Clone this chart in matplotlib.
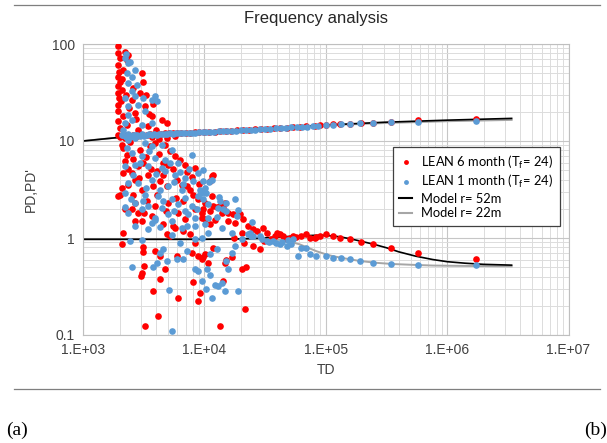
import numpy as np
import matplotlib
matplotlib.use("Agg")
import matplotlib.pyplot as plt
from matplotlib.ticker import LogLocator, FuncFormatter, NullFormatter
from matplotlib.lines import Line2D

plt.rcParams['font.family'] = ['Liberation Sans', 'DejaVu Sans']

# ---- data ----
# PD (upper branch), LEAN 6 month
red_pd_td = [2000, 2100, 2200, 2320, 2450, 2600, 2760, 2940, 3130, 3340, 3570, 3820, 4100, 4400,
             4730, 5100, 5500, 5950, 6450, 7000, 7600, 8300, 9100, 10000, 11000, 12200, 13500,
             15000, 16700, 18600, 20800, 23300, 26100, 29300, 33000, 37200, 42000, 47500, 53800,
             61000, 69400, 81300, 89300, 101400, 114900, 130300, 157600, 194200, 245400, 347100,
             575000, 1717000]
red_pd = [11.0, 11.3, 10.8, 11.5, 11.2, 11.6, 11.3, 11.7, 11.5, 11.6, 11.8, 11.7, 11.9, 11.8,
          12.0, 12.0, 12.1, 12.1, 12.1, 12.2, 12.2, 12.3, 12.3, 12.4, 12.4, 12.5, 12.6,
          12.7, 12.8, 12.9, 13.0, 13.1, 13.2, 13.3, 13.4, 13.5, 13.6, 13.7, 13.9,
          14.0, 14.2, 14.4, 14.5, 14.7, 14.8, 14.9, 15.1, 15.3, 15.5, 15.8,
          16.4, 16.9]

# PD (upper branch), LEAN 1 month
blue_pd_td = [2150, 2250, 2350, 2450, 2560, 2680, 2800, 2930, 3070, 3210, 3360, 3520, 3690, 3870,
              4060, 4260, 4480, 4710, 4960, 5230, 5520, 5830, 6170, 6540, 6950, 7400, 7900, 8450,
              9050, 9700, 10400, 11200, 12100, 13100, 14200, 15400, 16800, 18300, 20000, 21900,
              24000, 26300, 28900, 31800, 35000, 38600, 42600, 47000, 52000, 57500, 63700, 70600,
              78300, 86900, 101400, 114900, 134500, 157600, 190500, 245400, 347100, 575000, 1717000]
blue_pd = [11.4, 10.9, 11.8, 11.1, 11.5, 10.8, 11.6, 11.2, 11.7, 11.3, 11.5, 11.8, 11.4, 11.7,
           11.6, 11.9, 11.7, 11.9, 11.8, 12.0, 11.9, 12.0, 12.1, 12.0, 12.1, 12.2, 12.2, 12.2,
           12.3, 12.3, 12.4, 12.4, 12.5, 12.6, 12.6, 12.7, 12.8, 12.8, 12.9, 13.0,
           13.1, 13.1, 13.2, 13.3, 13.4, 13.5, 13.6, 13.7, 13.8, 13.9, 14.0, 14.1,
           14.3, 14.4, 14.6, 14.7, 14.9, 15.0, 15.2, 15.3, 15.6, 15.7, 16.1]

# PD' (derivative), LEAN 6 month  (TD, PD')
red_dpd = [
    (1954, 95), (1928, 80), (2018, 71), (1954, 61), (1990, 52), (1928, 46), (2018, 41), (1954, 36.5),
    (1928, 31), (1990, 27.7), (1954, 23.6), (1928, 20.2), (1954, 15.9), (2018, 13.6), (2220, 83),
    (2363, 77), (3139, 41), (2944, 31), (3237, 22.7), (3675, 17.9), (4443, 16.6), (4887, 15.3),
    (3451, 14.2), (2680, 19.4), (2518, 26.6), (3040, 50), (2853, 13.1), (5718, 11.2), (4887, 10.7),
    (2080, 33.7), (2149, 54), (2290, 68), (2100, 44), (2050, 26), (2150, 18), (2250, 30), (2400, 22),
    (2600, 35), (2750, 17), (3300, 30), (3500, 19), (4000, 13), (2300, 14.5), (3800, 24),
    (1954, 11.6), (2080, 9.2), (2150, 8.5), (2220, 6.2), (2363, 5.1), (2150, 4.7), (2018, 2.8),
    (1954, 2.7), (2853, 5.5), (3139, 5.9), (2944, 8.15), (3560, 8.8), (3914, 9.5), (4730, 9.2),
    (5200, 7.8), (5718, 7.0), (5540, 5.1), (4590, 4.5), (4040, 4.9), (4300, 3.85), (3800, 3.4),
    (4880, 3.4), (3040, 3.16), (2680, 4.0), (2518, 4.7), (6910, 5.7), (8350, 5.3), (7840, 4.3),
    (7130, 3.4), (7600, 3.16), (6700, 2.4), (8900, 2.5), (10100, 2.31), (11450, 2.7), (6090, 1.82),
    (5040, 2.31), (3914, 2.13), (3675, 1.68), (2853, 1.82), (2518, 1.97), (2220, 1.97), (3040, 1.5),
    (4590, 1.38), (5540, 1.33), (6910, 1.56), (9480, 1.62), (11100, 1.9), (8350, 1.97), (3340, 2.4),
    (2363, 3.55), (2600, 2.8), (3451, 4.5),
    (2300, 7.2), (2600, 6.5), (2900, 4.2), (3300, 6.8), (3600, 5.2), (4200, 7.4), (4600, 6.0),
    (5000, 5.6), (5900, 4.0), (6300, 6.3), (7200, 4.8), (8000, 2.8), (9000, 3.6), (9800, 2.0),
    (2700, 2.3), (3200, 1.8), (4100, 2.8), (4800, 1.9), (5800, 2.6), (6500, 3.5), (2100, 3.3),
    (2450, 9.8), (3700, 11.0), (4200, 10.5),
    (2150, 1.12), (2080, 0.86), (2680, 1.49), (3140, 0.80), (3140, 0.71), (3190, 0.52), (3040, 0.44),
    (3000, 0.41), (3237, 0.125), (3750, 0.285), (4170, 0.158), (4300, 0.376), (4700, 0.48),
    (4300, 0.653), (3914, 0.735), (4900, 1.09), (5200, 1.05), (5718, 1.28), (6000, 0.66),
    (6090, 0.243), (6700, 1.18), (7840, 0.707), (7600, 1.09), (8350, 0.895), (8900, 0.653),
    (9480, 0.604), (9780, 0.63), (10090, 0.68), (10750, 0.558), (11800, 0.795), (13400, 0.123),
    (8100, 0.35), (9180, 0.274), (8900, 0.225), (14300, 0.36), (14750, 0.558), (15200, 0.60),
    (16740, 0.63), (20230, 0.476), (22200, 0.50), (21540, 0.185), (22950, 1.33), (17820, 1.43),
    (11100, 1.38), (12200, 1.55), (15700, 1.49),
    (9480, 1.82), (11830, 2.13), (14750, 2.31), (13840, 1.82), (10090, 1.56), (17270, 1.75),
    (19590, 1.75), (20900, 1.56), (25240, 1.23), (30500, 1.28), (32500, 1.13), (39300, 1.13),
    (44600, 1.05), (50600, 1.01), (57400, 1.03), (69400, 1.09), (81300, 1.01), (89300, 1.05),
    (101400, 1.09), (114900, 1.05), (130300, 1.01), (157600, 0.969), (194200, 0.917),
    (245400, 0.874), (347100, 0.789), (575000, 0.695), (1717000, 0.604), (25240, 0.828),
    (28640, 0.765), (63000, 1.05), (73800, 0.99), (83800, 1.03), (42000, 1.09), (47500, 0.98),
    (54000, 1.05), (27000, 1.17), (31000, 0.93), (35500, 0.97), (38000, 1.05),
    (11560, 4.39), (12650, 2.10), (14130, 2.02), (15780, 1.80), (20400, 1.12), (17600, 1.0),
    (21100, 0.88), (11750, 4.5), (11100, 3.85), (13400, 2.13),
]

# PD' (derivative), LEAN 1 month  (TD, PD')
blue_dpd = [
    (2220, 71), (2363, 63), (2680, 54), (2290, 50), (2518, 46), (2363, 39.4), (2765, 37.9),
    (2518, 32.4), (2220, 27.7), (2680, 28.8), (3139, 27.7), (3914, 28.8), (4036, 25.6), (3675, 26.6),
    (2363, 22.7), (2853, 23.6), (2363, 18.7), (2220, 15.3), (3237, 20.2), (2518, 16.6), (3040, 14.7),
    (3675, 15.3), (2149, 13.1), (2680, 11.6), (2250, 78), (2450, 66),
    (2080, 11.6), (2363, 10.3), (2680, 11.2), (3237, 9.5), (3675, 8.8), (4443, 9.2), (5370, 8.15),
    (2518, 7.5), (3040, 7.0), (3914, 6.7), (4730, 6.4), (6090, 5.9), (7840, 7.2), (2220, 5.5),
    (2680, 5.7), (3451, 5.5), (4443, 5.3), (5718, 4.5), (6910, 4.2), (8900, 4.7), (11450, 4.0),
    (2363, 3.7), (2853, 3.7), (3675, 4.0), (5040, 3.4), (6490, 3.16), (10100, 3.3), (2220, 2.9),
    (3237, 2.8), (4170, 2.7), (5370, 2.5), (6910, 2.6), (8900, 2.7), (2680, 2.31), (3451, 2.13),
    (4443, 2.05), (6090, 2.22), (7840, 2.13), (10750, 2.22), (2363, 1.82), (3040, 1.97), (3914, 1.62),
    (5040, 1.75), (6910, 1.9), (2680, 1.33), (3675, 1.44), (5370, 1.5), (8350, 1.62), (10100, 1.38),
    (6490, 1.28),
    (2300, 8.4), (2600, 4.5), (2950, 6.0), (3300, 3.3), (3500, 7.8), (4000, 4.6), (4300, 3.1),
    (4700, 4.9), (5200, 6.0), (5600, 3.8), (6300, 4.8), (6700, 3.6), (7400, 5.2), (8100, 3.9),
    (9300, 2.9), (9800, 5.0), (2500, 2.5), (3100, 2.4), (4600, 2.4), (5600, 1.9), (7300, 1.75),
    (8700, 2.0), (2200, 2.1), (3400, 1.25), (4300, 1.3),
    (2440, 0.93), (3040, 0.95), (2517, 0.50), (3795, 0.50), (4050, 0.558), (4300, 0.707),
    (4600, 0.765), (4900, 0.58), (5420, 1.07), (5900, 0.604), (6700, 0.604), (7130, 0.735),
    (8350, 0.476), (8900, 0.458), (9480, 0.36), (10400, 0.297), (11450, 0.243), (11100, 0.42),
    (12200, 0.325), (13000, 0.321), (13840, 0.347), (14750, 0.285), (15700, 0.476), (18980, 0.285),
    (5100, 0.293), (5370, 0.11), (8350, 0.969), (9480, 1.0), (10750, 1.134), (13840, 1.28),
    (16740, 1.134), (17820, 0.827), (20230, 0.969), (22950, 1.09), (24440, 1.05), (8350, 1.33),
    (7130, 1.33), (6300, 0.895), (3914, 1.55),
    (73800, 0.679), (83800, 0.653), (101400, 0.653), (114900, 0.628), (134500, 0.628),
    (157600, 0.604), (190500, 0.58), (245400, 0.558), (347100, 0.545), (575000, 0.528),
    (1717000, 0.524), (59200, 0.645), (69400, 0.78), (63000, 0.796), (47500, 0.83), (42000, 0.865),
    (36900, 0.93), (32500, 0.93), (28640, 1.05), (25240, 1.05), (23700, 1.13), (16740, 0.706),
    (15200, 0.58), (12600, 0.765), (11100, 0.679), (10420, 0.476), (10750, 1.6), (13000, 2.05),
    (15200, 1.9), (17820, 2.5), (9780, 2.5), (13420, 2.4), (54000, 0.98), (49000, 0.955),
    (39000, 0.88), (44000, 0.9), (52000, 0.86), (30000, 0.98), (34000, 0.9),
    (10900, 3.8), (13100, 2.67), (18900, 1.95), (24500, 1.47), (12650, 1.66), (9180, 3.16),
    (10400, 2.94), (15200, 2.28), (14200, 1.97), (18400, 1.7), (9780, 3.85),
]

# model curves
model52_td = [1000, 2000, 5000, 10000, 30000, 100000, 300000, 1000000, 3400000]
model52_pd = [10.0, 10.9, 11.7, 12.2, 13.2, 14.6, 15.6, 16.4, 17.1]
model22_td = [1000, 2000, 5000, 10000, 30000, 100000, 300000, 1000000, 3400000]
model22_pd = [10.0, 10.9, 11.7, 12.2, 13.2, 14.5, 15.3, 16.0, 16.5]

model52_dtd = [1000, 3000, 10000, 20000, 30000, 45000, 60000, 80000, 100000, 130000, 160000,
               200000, 250000, 320000, 400000, 550000, 760000, 1000000, 1400000, 2000000, 3400000]
model52_dpd = [0.97, 0.97, 0.97, 0.98, 1.0, 1.03, 1.05, 1.065, 1.065, 1.03, 0.98,
               0.92, 0.86, 0.79, 0.72, 0.65, 0.60, 0.57, 0.55, 0.535, 0.525]
model22_dtd = [1000, 10000, 20000, 35000, 44000, 52000, 61000, 72000, 84000, 100000, 114000,
               150000, 190000, 260000, 350000, 500000, 760000, 1500000, 3400000]
model22_dpd = [0.97, 0.97, 0.975, 0.97, 0.95, 0.91, 0.86, 0.79, 0.73, 0.68, 0.65,
               0.61, 0.58, 0.555, 0.54, 0.53, 0.52, 0.515, 0.51]

RED = '#ff0000'
BLUE = '#5b9bd5'
MS = 23

fig = plt.figure(figsize=(6.07, 4.43), dpi=100)
ax = fig.add_axes([83 / 607, 1 - 335 / 443, 485.5 / 607, 291 / 443])

rx, ry = zip(*red_dpd)
bx, by = zip(*blue_dpd)
ax.scatter(red_pd_td, red_pd, s=MS, color=RED, lw=0, zorder=3)
ax.scatter(rx, ry, s=MS, color=RED, lw=0, zorder=3)
ax.scatter(blue_pd_td, blue_pd, s=MS, color=BLUE, lw=0, zorder=4)
ax.scatter(bx, by, s=MS, color=BLUE, lw=0, zorder=4)

ax.plot(model22_td, model22_pd, color='#a6a6a6', lw=1.4, zorder=2)
ax.plot(model52_td, model52_pd, color='black', lw=1.2, zorder=2)
ax.plot(model22_dtd, model22_dpd, color='#a6a6a6', lw=1.4, zorder=2.5)
ax.plot(model52_dtd, model52_dpd, color='black', lw=1.2, zorder=2.5)

ax.set_xscale('log')
ax.set_yscale('log')
ax.set_xlim(1e3, 1e7)
ax.set_ylim(0.1, 100)

for a in (ax.xaxis, ax.yaxis):
    a.set_major_locator(LogLocator(base=10))
    a.set_minor_locator(LogLocator(base=10, subs=np.arange(2, 10)))
    a.set_minor_formatter(NullFormatter())
ax.xaxis.set_major_formatter(FuncFormatter(lambda v, p: '1.E+%02d' % round(np.log10(v))))
ax.yaxis.set_major_formatter(FuncFormatter(lambda v, p: '%g' % v))
ax.tick_params(which='both', length=0, labelsize=10, labelcolor='#404040', pad=6)
ax.grid(True, which='major', color='#c6c6c6', lw=0.8)
ax.grid(True, which='minor', color='#dcdcdc', lw=0.7)
ax.set_axisbelow(True)
for sp in ax.spines.values():
    sp.set_color('#bfbfbf')
    sp.set_linewidth(0.8)

ax.set_xlabel('TD', fontsize=10, color='#404040', labelpad=4)
ax.set_ylabel("PD,PD'", fontsize=10, color='#404040', labelpad=10)
fig.text(315.5 / 607, 1 - 18 / 443, 'Frequency analysis', ha='center', va='center',
         fontsize=12, color='#262626')

handles = [
    Line2D([], [], ls='none', marker='o', ms=3.5, mfc=RED, mec='none'),
    Line2D([], [], ls='none', marker='o', ms=3.5, mfc=BLUE, mec='none'),
    Line2D([], [], color='black', lw=1.5),
    Line2D([], [], color='#a6a6a6', lw=1.5),
]
labels = ['LEAN 6 month (T$_\\mathregular{f}$= 24)', 'LEAN 1 month (T$_\\mathregular{f}$= 24)',
          'Model r= 52m', 'Model r= 22m']
leg = ax.legend(handles, labels, loc='upper left', bbox_to_anchor=(0.638, 0.646),
                fancybox=False, framealpha=1, edgecolor='#404040',
                prop={'family': ['Lato', 'DejaVu Sans'], 'size': 9.3},
                handlelength=1.0, handletextpad=0.7, labelspacing=0.2, borderpad=0.5,
                borderaxespad=0)
leg.get_frame().set_linewidth(0.9)
leg.set_zorder(6)

fig.add_artist(Line2D([14 / 607, 600 / 607], [1 - 5 / 443, 1 - 5 / 443], color='#7f7f7f', lw=0.9))
fig.add_artist(Line2D([14 / 607, 600 / 607], [1 - 389 / 443, 1 - 389 / 443], color='#7f7f7f', lw=0.9))
fig.text(17 / 607, 1 - 430 / 443, '(a)', ha='center', va='center', fontsize=14,
         family='Liberation Serif')
fig.text(596 / 607, 1 - 430 / 443, '(b)', ha='center', va='center', fontsize=14,
         family='Liberation Serif')

fig.savefig('out.png', dpi=100)
